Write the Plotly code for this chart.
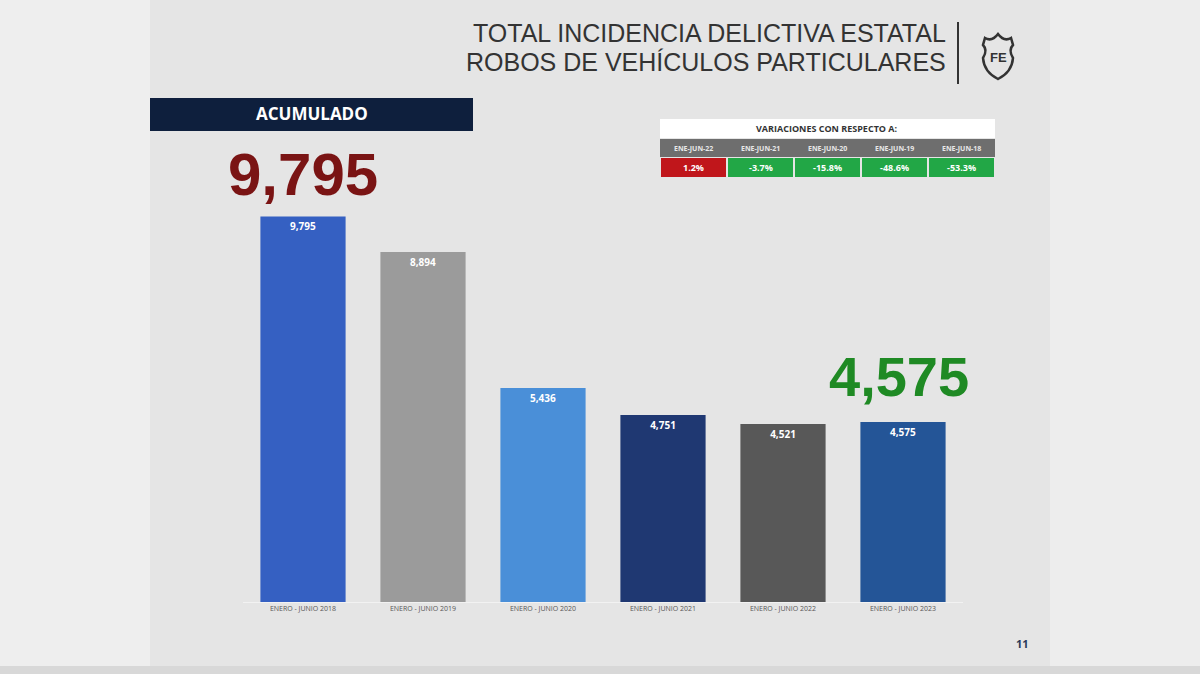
import plotly.graph_objects as go

categories = ["ENERO - JUNIO 2018", "ENERO - JUNIO 2019", "ENERO - JUNIO 2020",
              "ENERO - JUNIO 2021", "ENERO - JUNIO 2022", "ENERO - JUNIO 2023"]
values = [9795, 8894, 5436, 4751, 4521, 4575]
bar_colors = ["#3560c2", "#9b9b9b", "#4a8fd8", "#1f3872", "#585858", "#245597"]

var_headers = ["ENE-JUN-22", "ENE-JUN-21", "ENE-JUN-20", "ENE-JUN-19", "ENE-JUN-18"]
var_values = ["1.2%", "-3.7%", "-15.8%", "-48.6%", "-53.3%"]
var_colors = ["#c0161b", "#22a746", "#22a746", "#22a746", "#22a746"]

W, H = 1200, 674
def px(x): return x / W
def py(y): return 1 - y / H

fig = go.Figure()
fig.add_trace(go.Bar(
    x=categories, y=values, marker=dict(color=bar_colors, line=dict(width=0)),
    width=0.71, text=[f"<b>{v:,}</b>" for v in values], textposition="inside",
    insidetextanchor="end", textangle=0,
    textfont=dict(family="Open Sans", size=10, color="white"),
    cliponaxis=False, hoverinfo="skip"))

shapes = [
    dict(type="rect", xref="paper", yref="paper", x0=0, x1=px(150), y0=0, y1=1,
         fillcolor="#eeeeee", line=dict(width=0), layer="below"),
    dict(type="rect", xref="paper", yref="paper", x0=px(1050), x1=1, y0=0, y1=1,
         fillcolor="#ededed", line=dict(width=0), layer="below"),
    dict(type="rect", xref="paper", yref="paper", x0=0, x1=1, y0=0, y1=py(666),
         fillcolor="#d8d8d8", line=dict(width=0), layer="below"),
    dict(type="rect", xref="paper", yref="paper", x0=px(150), x1=px(473), y0=py(131), y1=py(98),
         fillcolor="#0e1f3d", line=dict(width=0)),
    dict(type="line", xref="paper", yref="paper", x0=px(958), x1=px(958), y0=py(22), y1=py(84),
         line=dict(color="#333333", width=2)),
    # table
    dict(type="rect", xref="paper", yref="paper", x0=px(660), x1=px(995), y0=py(138), y1=py(119),
         fillcolor="#ffffff", line=dict(width=0)),
    dict(type="rect", xref="paper", yref="paper", x0=px(660), x1=px(995), y0=py(157), y1=py(139),
         fillcolor="#6e6e6e", line=dict(width=0)),
    # FE shield
    dict(type="path", xref="paper", yref="paper",
         path=(f"M {px(985)} {py(38)} Q {px(992)} {py(42)} {px(998)} {py(34)} "
               f"Q {px(1004)} {py(42)} {px(1011)} {py(38)} "
               f"L {px(1013)} {py(45)} Q {px(1008)} {py(50)} {px(1013)} {py(58)} "
               f"Q {px(1012)} {py(72)} {px(998)} {py(79)} "
               f"Q {px(984)} {py(72)} {px(983)} {py(58)} "
               f"Q {px(988)} {py(50)} {px(983)} {py(45)} Z"),
         line=dict(color="#333333", width=2.5), fillcolor="rgba(0,0,0,0)"),
]

annotations = [
    dict(text="TOTAL INCIDENCIA DELICTIVA ESTATAL", x=px(948), y=py(33), xref="paper", yref="paper",
         xanchor="right", yanchor="middle", showarrow=False,
         font=dict(family="Liberation Sans", size=25, color="#333333")),
    dict(text="ROBOS DE VEHÍCULOS PARTICULARES", x=px(948), y=py(62), xref="paper", yref="paper",
         xanchor="right", yanchor="middle", showarrow=False,
         font=dict(family="Liberation Sans", size=25, color="#333333")),
    dict(text="<b>FE</b>", x=px(998), y=py(58), xref="paper", yref="paper",
         xanchor="center", yanchor="middle", showarrow=False,
         font=dict(family="Liberation Sans", size=13, color="#333333")),
    dict(text="<b>ACUMULADO</b>", x=px(312), y=py(114), xref="paper", yref="paper",
         xanchor="center", yanchor="middle", showarrow=False,
         font=dict(family="Open Sans", size=17, color="#ffffff")),
    dict(text=f"<b>{values[0]:,}</b>", x=categories[0], y=values[0], xref="x", yref="y",
         yshift=42, xanchor="center", yanchor="middle", showarrow=False,
         font=dict(family="Liberation Sans", size=60, color="#7a1414")),
    dict(text=f"<b>{values[-1]:,}</b>", x=categories[-1], y=values[-1], xref="x", yref="y",
         yshift=45, xshift=-4, xanchor="center", yanchor="middle", showarrow=False,
         font=dict(family="Liberation Sans", size=56, color="#1f8a24")),
    dict(text="<b>VARIACIONES CON RESPECTO A:</b>", x=px(827), y=py(128), xref="paper", yref="paper",
         xanchor="center", yanchor="middle", showarrow=False,
         font=dict(family="Open Sans", size=9, color="#333333")),
    dict(text="<b>11</b>", x=px(1022), y=py(643), xref="paper", yref="paper",
         xanchor="center", yanchor="middle", showarrow=False,
         font=dict(family="Open Sans", size=11, color="#2b3a5a")),
]

col_w = (995 - 660) / 5
for i, (h, v, c) in enumerate(zip(var_headers, var_values, var_colors)):
    x0 = 660 + i * col_w
    shapes.append(dict(type="rect", xref="paper", yref="paper", x0=px(x0 + 1), x1=px(x0 + col_w - 1),
                       y0=py(177), y1=py(158), fillcolor=c, line=dict(width=0)))
    annotations.append(dict(text=f"<b>{h}</b>", x=px(x0 + col_w / 2), y=py(148), xref="paper", yref="paper",
                            xanchor="center", yanchor="middle", showarrow=False,
                            font=dict(family="Open Sans", size=7, color="#e8e8e8")))
    annotations.append(dict(text=f"<b>{v}</b>", x=px(x0 + col_w / 2), y=py(167.5), xref="paper", yref="paper",
                            xanchor="center", yanchor="middle", showarrow=False,
                            font=dict(family="Open Sans", size=9, color="#ffffff")))

fig.update_layout(
    width=W, height=H, autosize=False,
    margin=dict(l=0, r=0, t=0, b=0, pad=0),
    paper_bgcolor="#e5e5e5", plot_bgcolor="rgba(0,0,0,0)",
    showlegend=False, bargap=0.29,
    shapes=shapes, annotations=annotations,
    xaxis=dict(domain=[243 / W, 963 / W], range=[-0.5, 5.5], showgrid=False, zeroline=False,
               showline=True, linecolor="#f2f2f2", linewidth=1, ticks="",
               tickfont=dict(family="Open Sans", size=7, color="#555555")),
    yaxis=dict(domain=[72 / H, 505 / H], range=[0, 11000], showgrid=False, zeroline=False,
               showticklabels=False, showline=False),
)

fig.write_html("out.html")
